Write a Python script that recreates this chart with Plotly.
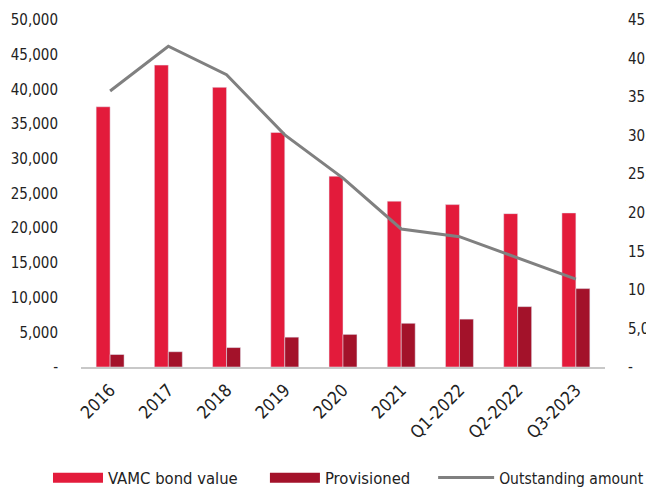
import plotly.graph_objects as go

categories = ["2016", "2017", "2018", "2019", "2020", "2021", "Q1-2022", "Q2-2022", "Q3-2023"]
vamc_bond_value = [37500, 43500, 40300, 33800, 27500, 23900, 23400, 22100, 22200]
provisioned = [1800, 2200, 2800, 4300, 4700, 6300, 6900, 8700, 11300]
outstanding_amount = [35800, 41600, 37900, 30100, 24500, 17900, 16900, 14100, 11400]

left_ticks = [0, 5000, 10000, 15000, 20000, 25000, 30000, 35000, 40000, 45000, 50000]
left_labels = ["-", "5,000", "10,000", "15,000", "20,000", "25,000", "30,000", "35,000", "40,000", "45,000", "50,000"]
right_ticks = [0, 5000, 10000, 15000, 20000, 25000, 30000, 35000, 40000, 45000]
right_labels = ["-", "5,000", "10,000", "15,000", "20,000", "25,000", "30,000", "35,000", "40,000", "45,000"]

RED = "#E31B3B"
DARK = "#A3122A"
GRAY = "#808080"
FONT = "DejaVu Sans Condensed, sans-serif"
TXT = "#222222"

fig = go.Figure()
fig.add_trace(go.Bar(x=categories, y=vamc_bond_value, marker_color=RED, showlegend=False, name="VAMC bond value"))
fig.add_trace(go.Bar(x=categories, y=provisioned, marker_color=DARK, showlegend=False, name="Provisioned"))
fig.add_trace(go.Scatter(x=categories, y=outstanding_amount, yaxis="y2", mode="lines",
                         line=dict(color=GRAY, width=3), showlegend=False, name="Outstanding amount"))

# legend entries (long rectangular swatches like the reference), one legend box each
fig.add_trace(go.Scatter(x=[None], y=[None], mode="lines", line=dict(color=RED, width=10),
                         name="VAMC bond value", legend="legend"))
fig.add_trace(go.Scatter(x=[None], y=[None], mode="lines", line=dict(color=DARK, width=10),
                         name="Provisioned", legend="legend2"))
fig.add_trace(go.Scatter(x=[None], y=[None], mode="lines", line=dict(color=GRAY, width=3),
                         name="Outstanding amount", legend="legend3"))

leg_common = dict(orientation="h", xanchor="left", y=-0.32, yanchor="middle", bgcolor="rgba(0,0,0,0)")

fig.update_layout(
    width=646, height=488,
    margin=dict(l=81, r=41, t=20, b=121, autoexpand=False),
    paper_bgcolor="white", plot_bgcolor="white",
    font=dict(family=FONT, size=15, color=TXT),
    barmode="group", bargap=0.52, bargroupgap=0,
    xaxis=dict(type="category", tickangle=-45, showgrid=False, showline=True, automargin=False,
               linecolor="#C8C8C8", linewidth=2, ticks="", ticklabelstandoff=4, tickfont=dict(size=17.5)),
    yaxis=dict(range=[0, 50000], tickvals=left_ticks, ticktext=left_labels, showgrid=False, automargin=False,
               zeroline=False, showline=False, ticklabelstandoff=22),
    yaxis2=dict(range=[0, 45000], tickvals=right_ticks, ticktext=right_labels, overlaying="y", automargin=False,
                side="right", showgrid=False, zeroline=False, showline=False, ticklabelstandoff=22),
    legend=dict(x=-0.063, itemwidth=50, font=dict(size=16.5), **leg_common),
    legend2=dict(x=0.351, itemwidth=50, font=dict(size=16.5), **leg_common),
    legend3=dict(x=0.672, itemwidth=56, font=dict(size=15.5), **leg_common),
)

fig.write_html("out.html")
